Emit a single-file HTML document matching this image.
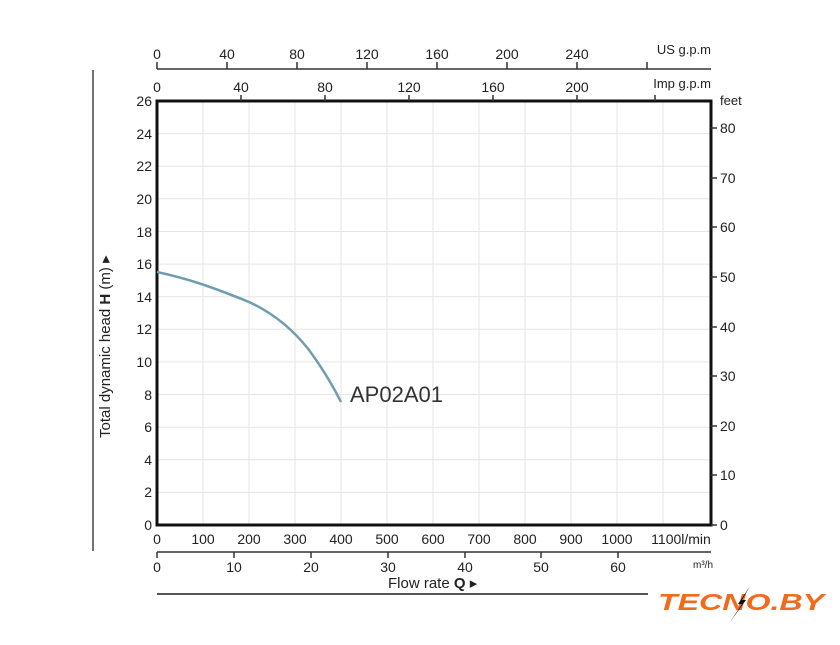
<!DOCTYPE html><html><head><style>body{margin:0;background:#fff}</style></head><body>
<svg width="840" height="640" xmlns="http://www.w3.org/2000/svg" font-family="Liberation Sans, sans-serif" fill="#222">
<g stroke="#e6e6e6" stroke-width="1">
<line x1="203" y1="101" x2="203" y2="525"/><line x1="249" y1="101" x2="249" y2="525"/><line x1="295" y1="101" x2="295" y2="525"/><line x1="341" y1="101" x2="341" y2="525"/><line x1="387" y1="101" x2="387" y2="525"/><line x1="433" y1="101" x2="433" y2="525"/><line x1="479" y1="101" x2="479" y2="525"/><line x1="525" y1="101" x2="525" y2="525"/><line x1="571" y1="101" x2="571" y2="525"/><line x1="617" y1="101" x2="617" y2="525"/><line x1="663" y1="101" x2="663" y2="525"/>
<line x1="157" y1="492.4" x2="711" y2="492.4"/><line x1="157" y1="459.8" x2="711" y2="459.8"/><line x1="157" y1="427.2" x2="711" y2="427.2"/><line x1="157" y1="394.5" x2="711" y2="394.5"/><line x1="157" y1="361.9" x2="711" y2="361.9"/><line x1="157" y1="329.3" x2="711" y2="329.3"/><line x1="157" y1="296.7" x2="711" y2="296.7"/><line x1="157" y1="264.1" x2="711" y2="264.1"/><line x1="157" y1="231.5" x2="711" y2="231.5"/><line x1="157" y1="198.8" x2="711" y2="198.8"/><line x1="157" y1="166.2" x2="711" y2="166.2"/><line x1="157" y1="133.6" x2="711" y2="133.6"/>
</g>
<rect x="157" y="101" width="554" height="424" fill="none" stroke="#111" stroke-width="3"/>
<g stroke="#333" stroke-width="1.5">
<line x1="157" y1="69" x2="711" y2="69"/>
<line x1="157" y1="62" x2="157" y2="69"/><line x1="227" y1="62" x2="227" y2="69"/><line x1="297" y1="62" x2="297" y2="69"/><line x1="367" y1="62" x2="367" y2="69"/><line x1="437" y1="62" x2="437" y2="69"/><line x1="507" y1="62" x2="507" y2="69"/><line x1="577" y1="62" x2="577" y2="69"/><line x1="647" y1="62" x2="647" y2="69"/>
<line x1="241" y1="95" x2="241" y2="101"/><line x1="325" y1="95" x2="325" y2="101"/><line x1="409" y1="95" x2="409" y2="101"/><line x1="493" y1="95" x2="493" y2="101"/><line x1="577" y1="95" x2="577" y2="101"/><line x1="655" y1="95" x2="655" y2="101"/>
<line x1="157" y1="552" x2="711" y2="552"/>
<line x1="157" y1="552" x2="157" y2="558"/><line x1="234" y1="552" x2="234" y2="558"/><line x1="311" y1="552" x2="311" y2="558"/><line x1="388" y1="552" x2="388" y2="558"/><line x1="465" y1="552" x2="465" y2="558"/><line x1="541" y1="552" x2="541" y2="558"/><line x1="618" y1="552" x2="618" y2="558"/>
<line x1="711" y1="128" x2="717" y2="128"/><line x1="711" y1="178" x2="717" y2="178"/><line x1="711" y1="227" x2="717" y2="227"/><line x1="711" y1="277" x2="717" y2="277"/><line x1="711" y1="327" x2="717" y2="327"/><line x1="711" y1="376" x2="717" y2="376"/><line x1="711" y1="426" x2="717" y2="426"/><line x1="711" y1="475" x2="717" y2="475"/><line x1="711" y1="525" x2="717" y2="525"/>
</g>
<line x1="93" y1="70" x2="93" y2="551" stroke="#444" stroke-width="1.5"/>
<line x1="157" y1="594" x2="648" y2="594" stroke="#555" stroke-width="2"/>
<g font-size="14" text-anchor="middle">
<text x="157" y="59">0</text><text x="227" y="59">40</text><text x="297" y="59">80</text><text x="367" y="59">120</text><text x="437" y="59">160</text><text x="507" y="59">200</text><text x="577" y="59">240</text>
<text x="157" y="92">0</text><text x="241" y="92">40</text><text x="325" y="92">80</text><text x="409" y="92">120</text><text x="493" y="92">160</text><text x="577" y="92">200</text>
<text x="157" y="544">0</text><text x="203" y="544">100</text><text x="249" y="544">200</text><text x="295" y="544">300</text><text x="341" y="544">400</text><text x="387" y="544">500</text><text x="433" y="544">600</text><text x="479" y="544">700</text><text x="525" y="544">800</text><text x="571" y="544">900</text><text x="617" y="544">1000</text>
<text x="157" y="572">0</text><text x="234" y="572">10</text><text x="311" y="572">20</text><text x="388" y="572">30</text><text x="465" y="572">40</text><text x="541" y="572">50</text><text x="618" y="572">60</text>
</g>
<text x="681" y="544" font-size="14" text-anchor="middle">1100l/min</text>
<text x="711" y="54" font-size="13" text-anchor="end">US g.p.m</text>
<text x="711" y="88" font-size="13" text-anchor="end">Imp g.p.m</text>
<text x="720" y="105" font-size="13">feet</text>
<text x="713" y="568" font-size="10" text-anchor="end">m³/h</text>
<g font-size="14" text-anchor="end">
<text x="152" y="530">0</text><text x="152" y="497">2</text><text x="152" y="465">4</text><text x="152" y="432">6</text><text x="152" y="400">8</text><text x="152" y="367">10</text><text x="152" y="334">12</text><text x="152" y="302">14</text><text x="152" y="269">16</text><text x="152" y="237">18</text><text x="152" y="204">20</text><text x="152" y="171">22</text><text x="152" y="139">24</text><text x="152" y="106">26</text>
</g>
<g font-size="14">
<text x="720" y="133">80</text><text x="720" y="183">70</text><text x="720" y="232">60</text><text x="720" y="282">50</text><text x="720" y="332">40</text><text x="720" y="381">30</text><text x="720" y="431">20</text><text x="720" y="480">10</text><text x="720" y="530">0</text>
</g>
<text x="388" y="588" font-size="15">Flow rate <tspan font-weight="bold">Q</tspan> ▸</text>
<text transform="translate(110,438) rotate(-90)" font-size="15">Total dynamic head <tspan font-weight="bold">H</tspan> (m) ▸</text>
<path d="M157,272 C185,278 210,286 249,302 C275,314 295,332 309,350 C320,365 332,384 341,402" fill="none" stroke="#6e9eb0" stroke-width="2.5"/>
<text x="350" y="402" font-size="22" fill="#333">AP02A01</text>
<text x="658" y="610" font-size="23" font-weight="bold" font-style="italic" fill="#f26a1b" textLength="166" lengthAdjust="spacingAndGlyphs">TECNO.BY</text>
<path d="M750,586 L738,604 L742,604 L730,622 L746,600 L742,600 Z" fill="#111"/>
</svg>
</body></html>
